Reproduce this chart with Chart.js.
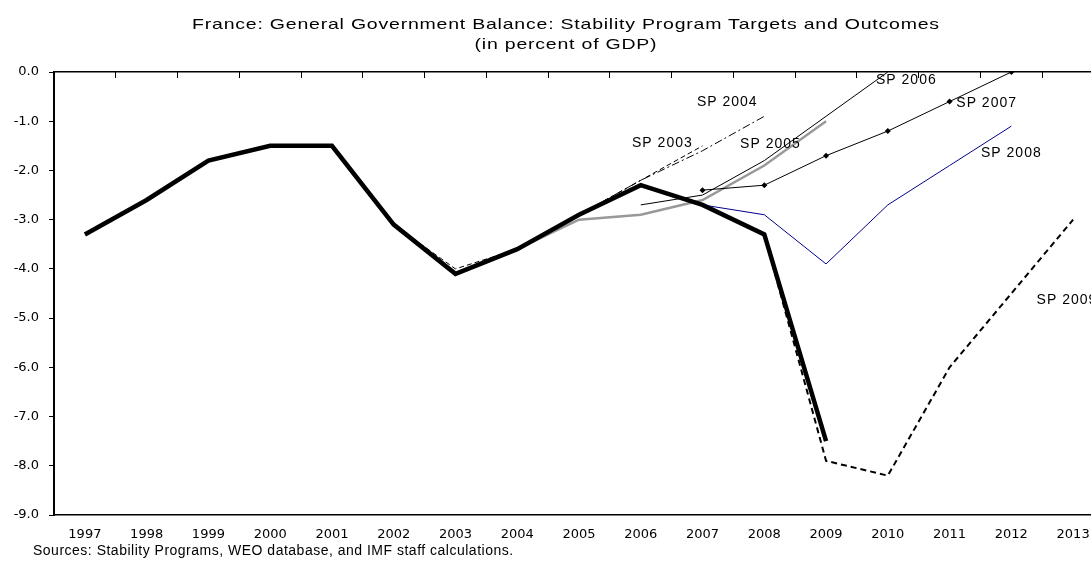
<!DOCTYPE html>
<html>
<head>
<meta charset="utf-8">
<script src="https://cdn.jsdelivr.net/npm/chart.js@4/dist/chart.umd.min.js"></script>
<style>
  html, body { margin: 0; padding: 0; background: #fff; overflow: hidden; width: 1091px; height: 567px; }
  #wrap { position: relative; width: 1091px; height: 567px; overflow: hidden; }
  canvas { position: absolute; left: 0; top: 0; }
  .title {
    position: absolute; left: 0; width: 1132px; text-align: center;
    font-family: "Liberation Sans", Arial, sans-serif; font-size: 15px; color: #000;
    letter-spacing: 0.6px; transform: scaleX(1.3); transform-origin: 566px 0;
    white-space: nowrap; line-height: 18px;
  }
  #sources {
    position: absolute; left: 33px; top: 542px;
    font-family: "Liberation Sans", Arial, sans-serif; font-size: 14px; color: #000;
    letter-spacing: 0.5px; white-space: nowrap;
  }
</style>
</head>
<body>
<div id="wrap">
  <canvas id="chart" width="1108" height="567"></canvas>
  <div class="title" style="top: 15px;">France: General Government Balance: Stability Program Targets and Outcomes</div>
  <div class="title" style="top: 35px;">(in percent of GDP)</div>
  <div id="sources">Sources: Stability Programs, WEO database, and IMF staff calculations.</div>
</div>
<script>
const years = ['1997', '1998', '1999', '2000', '2001', '2002', '2003', '2004', '2005',
  '2006', '2007', '2008', '2009', '2010', '2011', '2012', '2013'];

// general government balance, % of GDP (null = no value for that year)
const outcome = [-3.3, -2.6, -1.8, -1.5, -1.5, -3.1, -4.1, -3.6, -2.9, -2.3, -2.7, -3.3, -7.5, null, null, null, null];
const sp2003 = [null, null, null, null, null, -3.1, -4.0, -3.6, -2.9, -2.2, -1.5, null, null, null, null, null, null];
const sp2004 = [null, null, null, null, null, null, null, -3.6, -2.9, -2.2, -1.6, -0.9, null, null, null, null, null];
const sp2005 = [null, null, null, null, null, null, null, -3.6, -3.0, -2.9, -2.6, -1.9, -1.0, null, null, null, null];
const sp2006 = [null, null, null, null, null, null, null, null, null, -2.7, -2.5, -1.8, -0.9, 0.0, null, null, null];
const sp2007 = [null, null, null, null, null, null, null, null, null, null, -2.4, -2.3, -1.7, -1.2, -0.6, 0.0, null];
const sp2008 = [null, null, null, null, null, null, null, null, null, null, -2.7, -2.9, -3.9, -2.7, -1.9, -1.1, null];
const sp2009 = [null, null, null, null, null, null, null, null, null, null, null, -3.3, -7.9, -8.2, -6.0, -4.5, -3.0];

// line labels: text, year (fractional), value
const labelText = ['SP 2003', 'SP 2004', 'SP 2005', 'SP 2006', 'SP 2007', 'SP 2008', 'SP 2009'];
const labelYear = [2006.35, 2007.4, 2008.1, 2010.3, 2011.6, 2012.0, 2012.9];
const labelValue = [-1.44, -0.61, -1.46, -0.16, -0.63, -1.64, -4.64];

const tickFont = { family: '"DejaVu Sans", sans-serif', size: 13 };

const lineLabels = {
  id: 'lineLabels',
  afterDatasetsDraw(chart) {
    const { ctx, scales: { x, y } } = chart;
    ctx.save();
    ctx.font = '14px "Liberation Sans", Arial, sans-serif';
    ctx.letterSpacing = '1px';
    ctx.fillStyle = '#000';
    ctx.textAlign = 'center';
    ctx.textBaseline = 'middle';
    labelText.forEach((t, i) => {
      ctx.fillText(t, x.getPixelForValue(labelYear[i] - 1997), y.getPixelForValue(labelValue[i]));
    });
    ctx.restore();
  }
};

const thin = (label, data, color, extra) => Object.assign({
  label, data, borderColor: color, backgroundColor: color,
  borderWidth: 1, pointRadius: 0, tension: 0
}, extra || {});

new Chart(document.getElementById('chart'), {
  type: 'line',
  data: {
    labels: years,
    datasets: [
      thin('Outcome', outcome, '#000', { borderWidth: 4.5, borderJoinStyle: 'miter' }),
      thin('SP 2009', sp2009, '#000', { borderWidth: 2, borderDash: [6, 4] }),
      thin('SP 2008', sp2008, '#00008b'),
      thin('SP 2007', sp2007, '#000', { pointRadius: 3, pointStyle: 'rectRot', pointBorderWidth: 0 }),
      thin('SP 2006', sp2006, '#000'),
      thin('SP 2005', sp2005, '#999', { borderWidth: 2.5 }),
      thin('SP 2004', sp2004, '#000', { borderDash: [8, 3, 2, 3] }),
      thin('SP 2003', sp2003, '#000', { borderDash: [5, 3] })
    ]
  },
  options: {
    responsive: false,
    animation: false,
    layout: { padding: { left: 0, top: 0, right: 3, bottom: 0 } },
    plugins: { legend: { display: false }, tooltip: { enabled: false }, title: { display: false } },
    scales: {
      x: {
        position: 'bottom',
        offset: true,
        grid: { display: false },
        border: { display: true, color: '#000', width: 1.5 },
        ticks: { color: '#000', font: tickFont, padding: 4, maxRotation: 0, autoSkip: false },
        afterFit: s => { s.height = 52; }
      },
      x2: {
        position: 'top',
        type: 'category',
        labels: years,
        offset: true,
        grid: { display: true, offset: true, drawOnChartArea: false, drawTicks: true, tickLength: -6, color: '#000', lineWidth: 1 },
        border: { display: true, color: '#000', width: 1.5 },
        ticks: { display: false },
        afterFit: s => { s.height = 72; }
      },
      y: {
        min: -9,
        max: 0,
        grid: { display: true, drawOnChartArea: false, drawTicks: true, tickLength: 5, color: '#000', lineWidth: 1 },
        border: { display: true, color: '#000', width: 2 },
        ticks: {
          stepSize: 1, color: '#000', padding: 10,
          font: tickFont,
          callback: v => v.toFixed(1)
        },
        afterFit: s => { s.width = 54; }
      }
    }
  },
  plugins: [lineLabels]
});
</script>
</body>
</html>
